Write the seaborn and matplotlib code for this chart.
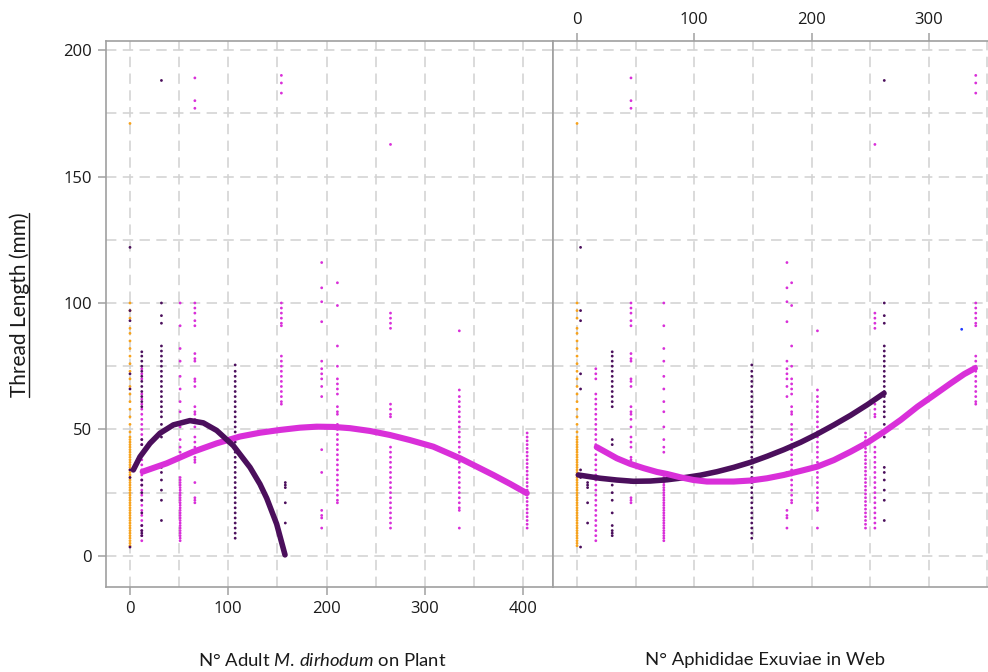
import numpy as np
import pandas as pd
import matplotlib
matplotlib.use("Agg")
import matplotlib.pyplot as plt
import seaborn as sns
from matplotlib.ticker import MultipleLocator
from matplotlib.lines import Line2D

# ------------------------------------------------------------------ data
# each column of observations: x on the adult axis, x on the exuviae axis, group
COLUMNS   = ["orange0", "dp0", "mg12", "dp12", "dp32", "mg51", "mg66", "dp107",
             "mg154", "dp158", "mg195", "mg211", "mg265", "mg335", "mg404", "blue"]
ADULT_X   = [0, 0, 12, 12, 32, 51, 66, 107, 154, 158, 195, 211, 265, 335, 404, np.nan]
EXUVIAE_X = [0, 3, 16, 30, 262, 74, 46, 149, 340, 9, 179, 183, 254, 205, 246, 328]
GROUP     = ["G1", "G2", "G3", "G2", "G2", "G3", "G3", "G2",
             "G3", "G2", "G3", "G3", "G3", "G3", "G3", "G4"]

orange0 = [171, 100, 97, 94, 90, 88, 85, 82, 79, 76, 73, 70, 67, 64, 61, 58, 55, 52,
           49, 47, 46, 45, 44, 43, 42, 41, 40, 39, 38, 37, 36, 35, 34, 33, 32, 31, 30,
           29, 28, 27, 26, 25, 24, 23, 22, 21, 20, 19, 18, 17, 16, 15, 14, 13, 12, 11,
           10, 9, 8, 7, 6, 5, 4]
dp0     = [122, 97, 93, 72, 66, 34, 31, 3.5]
mg12    = [74, 72, 70, 64, 62, 60, 58, 56, 54, 52, 50, 48, 46, 44, 40, 38, 36, 34, 32,
           30, 28, 26, 24, 22, 20, 18, 16, 14, 12, 10, 8, 6]
dp12    = [80.7, 79, 77, 75, 73, 71, 69, 67, 65, 63, 61, 59, 46, 44, 30, 28, 25, 22, 17,
           12, 10, 9, 8]
dp32    = [188, 100, 95, 92, 83, 81, 79, 77, 75, 73, 71, 69, 67, 65, 63, 61, 59, 57, 55,
           52, 47, 35, 33, 30, 26, 22, 14]
mg51    = [100, 91, 82, 77, 71, 66, 61, 57, 51, 46, 43, 41, 31, 30, 29, 28, 27, 26, 25,
           24, 23, 22, 21, 20, 19, 18, 17, 16, 15, 14, 13, 12, 11, 10, 9, 8, 7, 6]
mg66    = [189, 180, 177, 100, 98, 96, 93, 91, 80, 78, 77, 70, 69, 67, 59, 57, 56, 54,
           51, 47, 45, 43, 39, 38, 37, 29, 23, 22, 21]
dp107   = [75.5, 73, 71, 69, 67, 65, 63, 61, 59, 57, 55, 53, 51, 49, 47, 45, 43, 41, 39,
           37, 35, 33, 31, 29, 27, 25, 23, 21, 19, 17, 15, 13, 11, 9, 7]
mg154   = [190, 187, 183, 100, 98, 96, 94, 92, 91, 79, 77, 75, 73, 71, 69, 67, 65, 63,
           61, 60]
dp158   = [29, 28, 27, 21, 13]
mg195   = [116, 106, 100.5, 92.6, 77, 74, 72, 70, 67, 63, 42, 33, 18, 16, 15, 11]
mg211   = [108, 99, 83, 75, 70, 68, 66, 64, 59, 57, 56, 52, 50, 48, 46, 44, 42, 40, 38,
           36, 34, 32, 30, 28, 26, 24, 22, 21]
mg265   = [162.7, 96, 94, 92, 90, 60, 58, 56, 55, 43, 41, 39, 37, 35, 33, 31, 29, 27,
           25, 23, 21, 19, 17, 15, 13, 11]
mg335   = [89, 65.6, 63, 61, 59, 57, 55, 53, 51, 49, 47, 45, 43, 41, 39, 37, 35, 33, 31,
           29, 27, 25, 23, 21, 19, 18, 11]
mg404   = [48.6, 47, 45.5, 44, 42.5, 41, 39.5, 38, 36.5, 35, 33.5, 32, 30.5, 29, 27.5,
           26, 24.5, 23, 21.5, 20, 18.5, 17, 15.5, 14, 12.5, 11]
blue    = [89.6]

THREAD_Y = [orange0, dp0, mg12, dp12, dp32, mg51, mg66, dp107, mg154, dp158,
            mg195, mg211, mg265, mg335, mg404, blue]

# fitted curves
adult_dark_x = [3.4, 10.2, 20.3, 30.5, 44.1, 61.0, 74.6, 88.2, 105.1, 122.1, 132.2,
                139.1, 149.2, 157.7]
adult_dark_y = [34.0, 39.2, 44.5, 48.5, 51.8, 53.5, 52.6, 49.6, 43.6, 35.0, 28.4,
                22.8, 12.6, 0.4]
adult_mag_x  = [12.9, 37.3, 64.4, 88.2, 111.9, 132.2, 152.6, 172.9, 189.9, 206.8,
                223.8, 244.1, 264.5, 284.8, 308.5, 335.7, 352.7, 369.6, 386.6, 403.6]
adult_mag_y  = [33.3, 36.6, 41.2, 44.5, 47.2, 48.7, 49.8, 50.7, 51.1, 51.0,
                50.5, 49.4, 47.8, 45.8, 43.2, 38.6, 35.3, 32.0, 28.5, 24.8]
exuv_dark_x  = [1.1, 11.1, 19.7, 33.9, 48.1, 62.4, 76.7, 90.9, 105.1, 119.4, 133.6,
                147.9, 162.1, 176.3, 190.6, 204.9, 219.1, 233.3, 247.6, 261.8]
exuv_dark_y  = [32.0, 31.3, 30.7, 30.0, 29.5, 29.6, 30.1, 30.9, 31.9, 33.3, 35.0,
                37.0, 39.4, 42.0, 44.9, 48.2, 51.8, 55.6, 59.8, 64.3]
exuv_mag_x   = [16.8, 25.4, 33.9, 45.3, 56.7, 68.1, 76.7, 88.0, 99.4, 110.8, 119.4,
                133.6, 147.9, 162.1, 176.3, 190.6, 204.9, 219.1, 233.3, 247.6, 261.8,
                276.1, 290.3, 304.5, 318.8, 330.2, 339.3]
exuv_mag_y   = [43.0, 40.8, 38.6, 36.4, 34.7, 33.2, 32.4, 31.1, 30.0, 29.4, 29.4,
                29.4, 29.8, 30.7, 32.0, 33.6, 35.3, 37.9, 41.2, 44.8, 49.1,
                53.8, 59.0, 63.6, 68.3, 71.9, 74.2]

# ------------------------------------------------------------------ table
rows = []
for name, ax_, ex_, g, ys in zip(COLUMNS, ADULT_X, EXUVIAE_X, GROUP, THREAD_Y):
    for y in ys:
        rows.append({"col": name, "adult": ax_, "exuviae": ex_, "group": g, "thread": y})
df = pd.DataFrame(rows)

ORANGE = "#F7A21B"
DARK = "#4B0F5C"
MAGENTA = "#D92FD9"
BLUE = "#1F3BFF"
palette = {"G1": ORANGE, "G2": DARK, "G3": MAGENTA, "G4": BLUE}

# ------------------------------------------------------------------ style
sns.set_theme(style="white")
plt.rcParams["font.family"] = ["Open Sans", "DejaVu Sans"]
plt.rcParams["mathtext.fontset"] = "custom"
plt.rcParams["mathtext.rm"] = "Lato"
plt.rcParams["mathtext.it"] = "Lato:italic"

W, H = 988, 672
fig = plt.figure(figsize=(W / 100, H / 100), dpi=100)
ax1 = fig.add_axes([106 / W, 1 - 587 / H, 447 / W, 546 / H])
ax2 = fig.add_axes([553 / W, 1 - 587 / H, 436 / W, 546 / H], sharey=ax1)

GRID = "#d3d3d3"
SPINE = "#a0a0a0"

for ax in (ax1, ax2):
    ax.set_facecolor("white")
    ax.grid(which="both", color=GRID, linewidth=1.15, linestyle=(0, (6.5, 4)))
    ax.set_axisbelow(True)
    for s in ax.spines.values():
        s.set_color(SPINE)
        s.set_linewidth(1.2)

# scatter points
sns.scatterplot(data=df.dropna(subset=["adult"]), x="adult", y="thread", hue="group",
                palette=palette, s=4, linewidth=0, legend=False, ax=ax1, zorder=2)
sns.scatterplot(data=df, x="exuviae", y="thread", hue="group",
                palette=palette, s=4, linewidth=0, legend=False, ax=ax2, zorder=2)

# curves
sns.lineplot(x=adult_mag_x, y=adult_mag_y, sort=False, estimator=None, color=MAGENTA,
             linewidth=4.4, ax=ax1, zorder=3)
sns.lineplot(x=adult_dark_x, y=adult_dark_y, sort=False, estimator=None, color=DARK,
             linewidth=4.0, ax=ax1, zorder=4)
sns.lineplot(x=exuv_dark_x, y=exuv_dark_y, sort=False, estimator=None, color=DARK,
             linewidth=4.0, ax=ax2, zorder=3)
sns.lineplot(x=exuv_mag_x, y=exuv_mag_y, sort=False, estimator=None, color=MAGENTA,
             linewidth=4.4, ax=ax2, zorder=4)

# limits / ticks
ax1.set_xlim(-24.4, 430.3)
ax1.set_ylim(-12.3, 203.6)
ax2.set_xlim(-20.5, 351.3)

for ax in (ax1, ax2):
    ax.xaxis.set_major_locator(MultipleLocator(100))
    ax.xaxis.set_minor_locator(MultipleLocator(50))
ax1.yaxis.set_major_locator(MultipleLocator(50))
ax1.yaxis.set_minor_locator(MultipleLocator(25))

ax1.tick_params(axis="both", which="major", length=6, width=1.1, color=SPINE,
                labelsize=12, labelcolor="#1a1a1a", pad=4,
                bottom=True, left=True, top=False, right=False)
ax1.tick_params(axis="both", which="minor", length=0)

ax2.xaxis.tick_top()
ax2.tick_params(axis="x", which="major", length=6, width=1.1, color=SPINE,
                labelsize=12, labelcolor="#1a1a1a", pad=3, top=True, bottom=False)
ax2.tick_params(axis="both", which="minor", length=0)
ax2.tick_params(axis="y", which="both", left=False, right=False, labelleft=False)
ax2.spines["right"].set_visible(False)

ax1.set_xlabel("")
ax1.set_ylabel("")
ax2.set_xlabel("")
ax2.set_ylabel("")

# axis titles
fig.text(322 / W, 1 - 660 / H, r"N° Adult $\mathit{M.\,dirhodum}$ on Plant",
         ha="center", va="center", fontsize=13.3, family="Lato", color="#1a1a1a")
fig.text(765 / W, 1 - 660 / H, "N° Aphididae Exuviae in Web",
         ha="center", va="center", fontsize=13.3, family="Lato", color="#1a1a1a")
ylab = fig.text(20 / W, 1 - 305 / H, "Thread Length (mm)", rotation=90,
                ha="center", va="center", fontsize=15, family="Lato", color="#1a1a1a")

fig.canvas.draw()
bb = ylab.get_window_extent(fig.canvas.get_renderer()).transformed(fig.transFigure.inverted())
fig.add_artist(Line2D([bb.x1 - 1.5 / W, bb.x1 - 1.5 / W], [bb.y0, bb.y1],
                      transform=fig.transFigure, color="#1a1a1a", linewidth=1.0))

fig.savefig("out.png", dpi=100, facecolor="white")
